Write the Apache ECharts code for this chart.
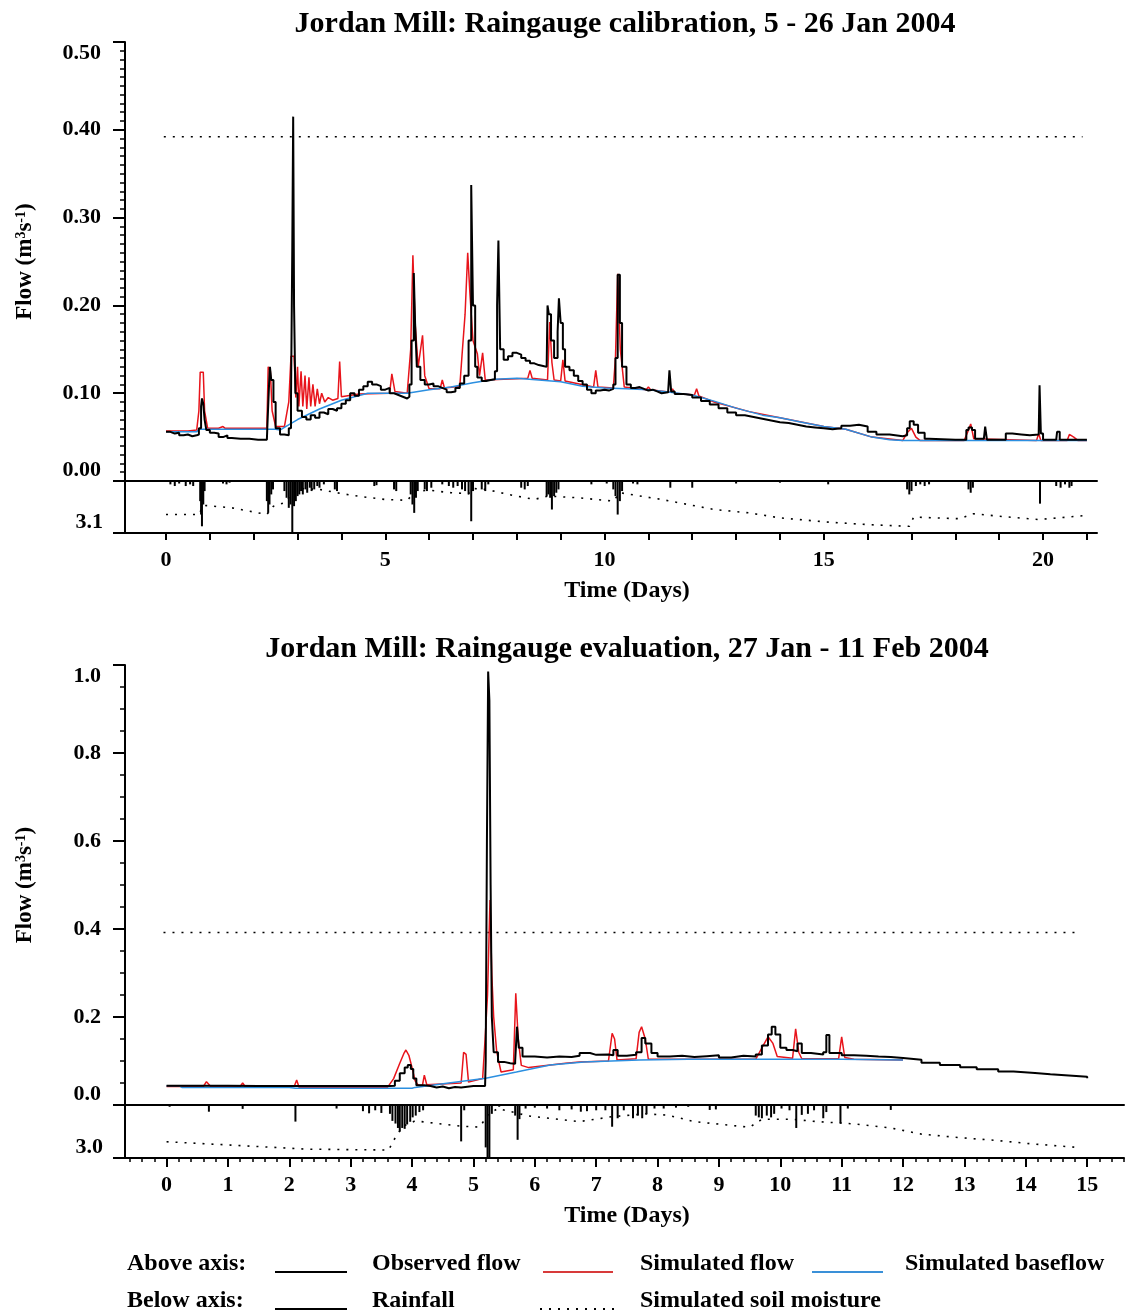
<!DOCTYPE html>
<html>
<head>
<meta charset="utf-8">
<script src="https://cdn.jsdelivr.net/npm/echarts@6/dist/echarts.min.js"></script>
<style>
html,body{margin:0;padding:0;background:#fff;}
#chart{width:1135px;height:1316px;}
</style>
</head>
<body>
<div id="chart"></div>
<script>
// ---------------- DATA ----------------
// Chart A: calibration, 5 - 26 Jan 2004  (time in days, flow m3/s, rainfall / soil moisture below axis)
var titleA = 'Jordan Mill: Raingauge calibration, 5 - 26 Jan 2004';
var titleB = 'Jordan Mill: Raingauge evaluation, 27 Jan - 11 Feb 2004';

var obsFlowA = [[0.00,0.056],[0.10,0.054],[0.20,0.055],[0.30,0.052],[0.40,0.053],[0.50,0.051],[0.60,0.052],[0.70,0.053],[0.75,0.060],[0.80,0.085],[0.82,0.094],[0.85,0.088],[0.88,0.070],[0.92,0.058],[1.00,0.055],[1.10,0.054],[1.20,0.050],[1.30,0.052],[1.40,0.049],[1.50,0.048],[1.70,0.048],[1.90,0.047],[2.10,0.047],[2.30,0.047],[2.31,0.060],[2.35,0.110],[2.37,0.130],[2.40,0.115],[2.45,0.090],[2.50,0.060],[2.60,0.053],[2.70,0.052],[2.80,0.060],[2.85,0.090],[2.88,0.267],[2.90,0.415],[2.92,0.200],[2.95,0.100],[3.00,0.080],[3.10,0.073],[3.20,0.070],[3.30,0.075],[3.40,0.072],[3.50,0.078],[3.60,0.076],[3.70,0.082],[3.80,0.080],[3.90,0.083],[4.00,0.088],[4.10,0.092],[4.20,0.100],[4.30,0.097],[4.40,0.104],[4.50,0.108],[4.60,0.113],[4.70,0.110],[4.80,0.108],[4.90,0.104],[5.00,0.106],[5.10,0.100],[5.20,0.098],[5.30,0.096],[5.40,0.094],[5.50,0.096],[5.55,0.110],[5.60,0.160],[5.65,0.237],[5.68,0.180],[5.72,0.130],[5.80,0.115],[5.90,0.110],[6.00,0.111],[6.10,0.108],[6.20,0.106],[6.30,0.104],[6.40,0.101],[6.50,0.102],[6.60,0.106],[6.70,0.111],[6.80,0.120],[6.90,0.160],[6.96,0.337],[7.00,0.200],[7.05,0.130],[7.10,0.118],[7.20,0.114],[7.30,0.115],[7.40,0.116],[7.50,0.125],[7.55,0.200],[7.58,0.274],[7.62,0.150],[7.70,0.138],[7.80,0.142],[7.90,0.146],[8.00,0.144],[8.10,0.140],[8.20,0.137],[8.30,0.134],[8.40,0.132],[8.50,0.131],[8.60,0.130],[8.68,0.131],[8.70,0.200],[8.73,0.190],[8.78,0.160],[8.85,0.140],[8.93,0.170],[8.96,0.208],[9.00,0.180],[9.05,0.150],[9.10,0.130],[9.20,0.126],[9.30,0.120],[9.40,0.114],[9.50,0.110],[9.60,0.104],[9.70,0.100],[9.80,0.103],[9.90,0.104],[10.00,0.103],[10.10,0.105],[10.20,0.110],[10.25,0.140],[10.30,0.235],[10.35,0.180],[10.40,0.130],[10.50,0.110],[10.60,0.106],[10.70,0.107],[10.80,0.105],[10.90,0.103],[11.00,0.104],[11.10,0.102],[11.20,0.100],[11.30,0.101],[11.45,0.100],[11.48,0.126],[11.52,0.102],[11.60,0.099],[11.80,0.098],[12.00,0.095],[12.20,0.091],[12.40,0.087],[12.60,0.083],[12.80,0.078],[13.00,0.075],[13.20,0.073],[13.40,0.071],[13.60,0.069],[13.80,0.067],[14.00,0.066],[14.20,0.064],[14.40,0.062],[14.60,0.061],[14.80,0.060],[15.00,0.059],[15.20,0.060],[15.40,0.063],[15.60,0.064],[15.80,0.062],[16.00,0.056],[16.20,0.053],[16.50,0.051],[16.80,0.052],[16.90,0.060],[16.96,0.068],[17.05,0.064],[17.15,0.055],[17.30,0.048],[17.40,0.047],[18.00,0.047],[18.20,0.047],[18.25,0.058],[18.30,0.061],[18.38,0.058],[18.45,0.048],[18.65,0.047],[18.68,0.062],[18.72,0.047],[19.10,0.047],[19.15,0.054],[19.30,0.053],[19.50,0.052],[19.70,0.053],[19.90,0.054],[19.92,0.109],[19.95,0.054],[20.00,0.047],[20.30,0.047],[20.32,0.056],[20.38,0.047],[21.00,0.047]];

var simFlowA = [[0.00,0.057],[0.50,0.057],[0.70,0.058],[0.75,0.080],[0.78,0.124],[0.85,0.124],[0.88,0.080],[0.95,0.060],[1.20,0.060],[1.30,0.062],[1.35,0.060],[1.80,0.060],[2.30,0.060],[2.33,0.130],[2.38,0.125],[2.42,0.080],[2.50,0.062],[2.70,0.062],[2.80,0.090],[2.85,0.142],[2.92,0.142],[2.96,0.095],[3.00,0.130],[3.03,0.085],[3.08,0.125],[3.12,0.085],[3.17,0.120],[3.21,0.082],[3.26,0.118],[3.30,0.085],[3.35,0.110],[3.40,0.085],[3.45,0.105],[3.50,0.088],[3.55,0.100],[3.62,0.090],[3.70,0.095],[3.80,0.092],[3.92,0.094],[3.96,0.136],[4.00,0.096],[4.40,0.099],[5.10,0.100],[5.15,0.122],[5.22,0.102],[5.50,0.100],[5.58,0.150],[5.63,0.257],[5.68,0.180],[5.75,0.130],[5.85,0.166],[5.90,0.120],[6.00,0.105],[6.25,0.105],[6.30,0.115],[6.35,0.106],[6.70,0.108],[6.75,0.143],[6.82,0.190],[6.88,0.260],[6.93,0.214],[7.00,0.160],[7.10,0.145],[7.15,0.120],[7.22,0.146],[7.28,0.115],[8.25,0.117],[8.30,0.126],[8.35,0.117],[8.70,0.115],[8.75,0.181],[8.80,0.135],[8.85,0.115],[9.00,0.114],[9.05,0.138],[9.10,0.114],[9.75,0.107],[9.80,0.126],[9.85,0.107],[10.20,0.106],[10.25,0.141],[10.30,0.236],[10.36,0.150],[10.45,0.107],[10.95,0.104],[11.00,0.107],[11.05,0.104],[11.50,0.101],[11.55,0.105],[11.60,0.100],[12.05,0.098],[12.10,0.105],[12.15,0.097],[12.50,0.090],[13.30,0.079],[14.00,0.072],[15.00,0.062],[15.50,0.059],[16.10,0.050],[16.80,0.046],[16.90,0.055],[17.00,0.060],[17.10,0.050],[17.20,0.046],[18.20,0.046],[18.30,0.058],[18.35,0.065],[18.42,0.048],[19.85,0.046],[19.90,0.054],[19.95,0.046],[20.55,0.046],[20.60,0.053],[20.70,0.050],[20.80,0.046],[21.00,0.046]];

var baseFlowA = [[0.00,0.056],[0.70,0.056],[0.75,0.059],[2.50,0.059],[2.60,0.058],[2.70,0.061],[3.00,0.070],[3.50,0.082],[4.00,0.092],[4.60,0.100],[5.00,0.100],[5.50,0.100],[6.00,0.104],[6.50,0.107],[7.00,0.112],[7.50,0.116],[8.00,0.117],[8.50,0.115],[9.00,0.113],[9.50,0.108],[10.00,0.106],[10.50,0.105],[11.00,0.104],[11.50,0.101],[12.00,0.098],[12.50,0.091],[13.00,0.083],[13.30,0.079],[13.60,0.075],[14.00,0.072],[14.50,0.067],[15.00,0.062],[15.50,0.059],[16.10,0.050],[16.50,0.047],[16.80,0.046],[21.00,0.046]];

var rainA = [[0.10,0.2],[0.20,0.3],[0.30,0.15],[0.45,0.3],[0.55,0.2],[0.62,0.3],[0.78,1.2],[0.80,2.0],[0.82,2.7],[0.85,1.4],[0.88,0.6],[1.30,0.15],[1.38,0.2],[1.45,0.1],[2.30,1.2],[2.33,1.9],[2.36,1.4],[2.40,0.8],[2.44,0.5],[2.70,0.6],[2.75,1.0],[2.80,1.6],[2.84,1.4],[2.88,3.1],[2.92,1.5],[2.96,1.2],[3.00,0.9],[3.04,0.8],[3.08,0.6],[3.12,0.8],[3.18,0.5],[3.22,0.7],[3.28,0.4],[3.32,0.6],[3.38,0.5],[3.45,0.3],[3.50,0.4],[3.60,0.2],[3.85,0.5],[3.90,0.6],[4.75,0.3],[4.80,0.25],[5.20,0.5],[5.25,0.6],[5.58,0.8],[5.62,1.4],[5.66,1.9],[5.70,1.0],[5.74,0.6],[5.90,0.5],[5.95,0.6],[6.05,0.4],[6.30,0.2],[6.45,0.3],[6.55,0.4],[6.65,0.3],[6.75,0.5],[6.82,0.6],[6.90,0.8],[6.96,2.4],[7.00,0.6],[7.20,0.5],[7.28,0.6],[7.35,0.2],[8.10,0.4],[8.18,0.5],[8.25,0.3],[8.68,0.9],[8.72,0.8],[8.76,1.0],[8.80,1.7],[8.85,0.9],[8.90,0.7],[8.95,0.5],[9.70,0.2],[10.05,0.15],[10.20,0.5],[10.25,0.9],[10.30,2.0],[10.35,1.2],[10.40,0.6],[10.65,0.15],[10.75,0.2],[11.50,0.4],[12.00,0.4],[13.00,0.15],[14.00,0.1],[15.10,0.2],[16.90,0.5],[16.95,0.8],[17.00,0.6],[17.10,0.3],[17.20,0.2],[17.30,0.3],[17.40,0.2],[18.30,0.5],[18.35,0.7],[18.40,0.4],[19.93,1.35],[20.30,0.3],[20.40,0.4],[20.50,0.2],[20.60,0.4],[20.65,0.3]];

var soilA = [[0.0,2.0],[0.75,2.0],[0.85,1.45],[1.5,1.6],[2.3,2.0],[2.45,1.5],[2.7,1.3],[2.9,0.7],[3.05,0.45],[3.5,0.5],[4.0,0.75],[4.5,0.95],[5.0,1.1],[5.5,1.15],[5.7,0.6],[6.0,0.55],[6.5,0.7],[6.9,0.75],[7.0,0.45],[7.3,0.5],[7.8,0.8],[8.4,1.1],[8.7,0.9],[9.4,1.0],[10.2,1.2],[10.35,0.7],[11.3,1.1],[12.5,1.7],[13.3,1.9],[14.0,2.2],[15.1,2.45],[16.0,2.6],[16.95,2.7],[17.05,2.15],[18.1,2.25],[18.4,1.95],[19.0,2.1],[19.9,2.3],[21.0,2.05]];

var thresholdA = [[-0.05,0.392],[20.9,0.392]];

// Chart B: evaluation, 27 Jan - 11 Feb 2004
var obsFlowB = [[0.0,0.044],[0.5,0.044],[1.0,0.043],[1.5,0.043],[2.0,0.043],[2.5,0.043],[3.0,0.043],[3.5,0.043],[3.64,0.044],[3.72,0.055],[3.80,0.072],[3.88,0.085],[3.93,0.091],[3.98,0.082],[4.02,0.060],[4.07,0.045],[4.2,0.043],[4.3,0.040],[4.4,0.042],[4.5,0.038],[4.6,0.041],[4.7,0.040],[4.8,0.043],[5.0,0.043],[5.19,0.043],[5.20,0.100],[5.22,0.600],[5.24,0.985],[5.26,0.920],[5.28,0.500],[5.30,0.200],[5.33,0.120],[5.40,0.098],[5.50,0.095],[5.60,0.094],[5.68,0.100],[5.71,0.178],[5.74,0.130],[5.80,0.110],[6.00,0.108],[6.2,0.110],[6.4,0.109],[6.6,0.112],[6.73,0.118],[6.9,0.114],[7.0,0.115],[7.2,0.113],[7.28,0.125],[7.35,0.112],[7.5,0.114],[7.65,0.120],[7.74,0.152],[7.8,0.140],[7.9,0.118],[8.0,0.110],[8.2,0.112],[8.4,0.109],[8.6,0.111],[8.8,0.113],[9.0,0.108],[9.2,0.112],[9.4,0.110],[9.6,0.115],[9.7,0.135],[9.8,0.160],[9.86,0.178],[9.92,0.160],[10.0,0.130],[10.1,0.125],[10.2,0.122],[10.28,0.140],[10.35,0.118],[10.5,0.115],[10.7,0.120],[10.75,0.159],[10.8,0.118],[11.0,0.113],[11.2,0.112],[11.4,0.110],[11.6,0.109],[11.8,0.107],[12.0,0.103],[12.3,0.096],[12.6,0.091],[12.93,0.086],[13.2,0.081],[13.55,0.076],[13.8,0.073],[14.15,0.070],[14.4,0.067],[14.7,0.064],[15.0,0.061]];

var simFlowB = [[0.0,0.042],[0.6,0.042],[0.65,0.053],[0.72,0.042],[1.2,0.042],[1.24,0.050],[1.28,0.042],[2.08,0.042],[2.12,0.057],[2.16,0.040],[3.6,0.040],[3.7,0.060],[3.8,0.095],[3.87,0.118],[3.9,0.125],[3.95,0.112],[4.0,0.085],[4.05,0.055],[4.1,0.045],[4.17,0.045],[4.2,0.068],[4.24,0.046],[4.8,0.050],[4.84,0.120],[4.88,0.115],[4.92,0.052],[5.15,0.060],[5.19,0.150],[5.23,0.250],[5.27,0.466],[5.30,0.295],[5.33,0.200],[5.38,0.120],[5.45,0.075],[5.65,0.080],[5.69,0.254],[5.73,0.150],[5.78,0.090],[5.9,0.085],[6.5,0.095],[6.73,0.098],[7.2,0.100],[7.26,0.163],[7.30,0.150],[7.34,0.102],[7.65,0.105],[7.70,0.165],[7.74,0.178],[7.80,0.150],[7.85,0.104],[9.6,0.104],[9.7,0.130],[9.8,0.155],[9.88,0.140],[9.95,0.110],[10.2,0.106],[10.25,0.173],[10.30,0.120],[10.35,0.105],[10.95,0.105],[11.0,0.155],[11.05,0.108],[11.2,0.104],[12.0,0.102]];

var baseFlowB = [[0.0,0.044],[0.2,0.044],[0.25,0.040],[2.0,0.040],[2.1,0.038],[4.0,0.038],[4.05,0.040],[4.6,0.050],[5.2,0.061],[5.7,0.075],[6.25,0.091],[6.8,0.098],[7.7,0.102],[8.5,0.104],[10.0,0.104],[11.0,0.104],[12.0,0.102]];

var rainB = [[0.05,0.1],[0.69,0.38],[1.24,0.22],[2.1,0.94],[2.77,0.2],[3.2,0.35],[3.3,0.47],[3.4,0.3],[3.5,0.45],[3.64,0.5],[3.68,0.9],[3.73,1.05],[3.77,1.3],[3.80,1.5],[3.84,1.3],[3.88,1.35],[3.92,1.1],[3.97,0.95],[4.01,0.7],[4.06,0.6],[4.12,0.4],[4.18,0.3],[4.8,2.06],[4.85,0.3],[5.2,2.4],[5.23,3.0],[5.26,3.0],[5.3,0.5],[5.42,0.1],[5.68,0.6],[5.72,1.97],[5.75,0.8],[5.85,0.2],[6.0,0.15],[6.2,0.2],[6.4,0.3],[6.6,0.25],[6.75,0.38],[6.85,0.35],[7.0,0.3],[7.15,0.3],[7.26,1.23],[7.35,0.75],[7.45,0.3],[7.6,0.75],[7.68,0.6],[7.75,0.75],[7.82,0.5],[7.95,0.2],[8.1,0.2],[8.3,0.15],[8.5,0.1],[8.85,0.28],[8.95,0.25],[9.6,0.6],[9.65,0.7],[9.7,0.75],[9.78,0.6],[9.85,0.7],[9.9,0.5],[10.02,0.2],[10.15,0.3],[10.26,1.3],[10.35,0.56],[10.45,0.5],[10.55,0.3],[10.7,0.75],[10.75,0.4],[10.98,1.03],[11.1,0.2],[11.8,0.28]];

var soilB = [[0.0,2.08],[1.05,2.27],[2.3,2.5],[3.62,2.55],[3.7,2.0],[3.85,1.2],[4.05,0.9],[4.8,1.2],[5.1,1.25],[5.25,0.5],[5.4,0.2],[5.9,0.62],[6.73,0.94],[7.26,0.66],[7.8,0.5],[8.16,0.57],[8.6,0.94],[9.5,1.26],[9.7,0.81],[10.2,0.81],[10.6,0.94],[11.2,1.07],[11.8,1.3],[12.3,1.65],[12.9,1.84],[13.5,2.0],[14.1,2.2],[14.85,2.4]];

var thresholdB = [[-0.05,0.392],[14.9,0.392]];

// tick values
var xTicksA = [0,1,2,3,4,5,6,7,8,9,10,11,12,13,14,15,16,17,18,19,20,21];
var xLabelsA = [0,5,10,15,20];
var xTicksB = [0,1,2,3,4,5,6,7,8,9,10,11,12,13,14,15];
var xMinorB = [];
for (var k = -3; k <= 78; k++) { if (k % 5 !== 0) xMinorB.push(+(k * 0.2).toFixed(1)); }

// ---------------- CHART ----------------
var FONT = '"Liberation Serif", "Times New Roman", serif';
var BLACK = '#000000', RED = '#e8141b', BLUE = '#2b8fe0';
var chart = echarts.init(document.getElementById('chart'), null, {renderer: 'canvas'});

var labelStyle = {color: BLACK, fontFamily: FONT, fontWeight: 'bold', fontSize: 22};
var yName = 'Flow (m{sup|3}s{sup|-1})';
var yNameStyle = {color: BLACK, fontFamily: FONT, fontWeight: 'bold', fontSize: 23,
  rich: {sup: {fontFamily: FONT, fontWeight: 'bold', fontSize: 14, verticalAlign: 'top', padding: [0,0,8,0]}}};

function lineS(data, xi, yi, color, width, dash, step) {
  return {type: 'line', data: data, xAxisIndex: xi, yAxisIndex: yi, showSymbol: false, symbol: 'none',
    silent: true, animation: false, clip: true, step: step || false,
    lineStyle: {color: color, width: width, type: dash || 'solid'}};
}
function barS(data, xi, yi) {
  return {type: 'bar', data: data, xAxisIndex: xi, yAxisIndex: yi, barWidth: 2, silent: true, animation: false,
    itemStyle: {color: BLACK}};
}

var option = {
  backgroundColor: '#ffffff',
  animation: false,
  title: [
    {text: titleA, left: 625, top: 9, textAlign: 'center', padding: 0,
     textStyle: {fontFamily: FONT, fontWeight: 'bold', fontSize: 30, color: BLACK}},
    {text: titleB, left: 627, top: 634, textAlign: 'center', padding: 0,
     textStyle: {fontFamily: FONT, fontWeight: 'bold', fontSize: 30, color: BLACK}}
  ],
  grid: [
    {left: 125, top: 42, width: 972, height: 439, containLabel: false},
    {left: 125, top: 481, width: 972, height: 52, containLabel: false},
    {left: 125, top: 665, width: 999, height: 440, containLabel: false},
    {left: 125, top: 1105, width: 999, height: 53, containLabel: false},
    {left: 125, top: 1105, width: 999, height: 53, containLabel: false}
  ],
  xAxis: [
    {type: 'value', gridIndex: 0, min: -0.935, max: 21.23, position: 'bottom',
     axisLine: {show: true, onZero: false, lineStyle: {color: BLACK, width: 2}},
     axisTick: {show: false}, axisLabel: {show: false}, splitLine: {show: false}},
    {type: 'value', gridIndex: 1, min: -0.935, max: 21.23, position: 'bottom',
     name: 'Time (Days)', nameLocation: 'middle', nameGap: 46,
     nameTextStyle: {color: BLACK, fontFamily: FONT, fontWeight: 'bold', fontSize: 24, padding: [0,0,0,32]},
     axisLine: {show: true, onZero: false, lineStyle: {color: BLACK, width: 2}},
     axisTick: {show: true, customValues: xTicksA, length: 7, lineStyle: {color: BLACK, width: 2}},
     axisLabel: Object.assign({customValues: xLabelsA, margin: 16}, labelStyle),
     splitLine: {show: false}},
    {type: 'value', gridIndex: 2, min: -0.677, max: 15.6, position: 'bottom',
     axisLine: {show: true, onZero: false, lineStyle: {color: BLACK, width: 2}},
     axisTick: {show: false}, axisLabel: {show: false}, splitLine: {show: false}},
    {type: 'value', gridIndex: 3, min: -0.677, max: 15.6, position: 'bottom',
     name: 'Time (Days)', nameLocation: 'middle', nameGap: 46,
     nameTextStyle: {color: BLACK, fontFamily: FONT, fontWeight: 'bold', fontSize: 24, padding: [0,0,0,5]},
     axisLine: {show: true, onZero: false, lineStyle: {color: BLACK, width: 2}},
     axisTick: {show: true, customValues: xTicksB, length: 9, lineStyle: {color: BLACK, width: 2}},
     axisLabel: Object.assign({customValues: xTicksB, margin: 16}, labelStyle),
     splitLine: {show: false}},
    {type: 'value', gridIndex: 4, min: -0.677, max: 15.6, position: 'bottom',
     axisLine: {show: false},
     axisTick: {show: true, customValues: xMinorB, length: 4, lineStyle: {color: BLACK, width: 1.5}},
     axisLabel: {show: false}, splitLine: {show: false}}
  ],
  yAxis: [
    {type: 'value', gridIndex: 0, min: 0, max: 0.5, interval: 0.1, position: 'left',
     name: yName, nameLocation: 'middle', nameGap: 88, nameRotate: 90, nameTextStyle: yNameStyle,
     axisLine: {show: true, onZero: false, lineStyle: {color: BLACK, width: 2}},
     axisTick: {show: true, length: 12, lineStyle: {color: BLACK, width: 2}},
     minorTick: {show: true, splitNumber: 10, length: 5, lineStyle: {color: BLACK, width: 1.5}},
     axisLabel: Object.assign({margin: 24, formatter: function (v) { return v.toFixed(2); },
       verticalAlignMinLabel: 'bottom', verticalAlignMaxLabel: 'top'}, labelStyle),
     splitLine: {show: false}},
    {type: 'value', gridIndex: 1, min: 0, max: 3.1, interval: 3.1, inverse: true, position: 'left',
     axisLine: {show: true, onZero: false, lineStyle: {color: BLACK, width: 2}},
     axisTick: {show: true, length: 12, lineStyle: {color: BLACK, width: 2}},
     axisLabel: Object.assign({margin: 22, formatter: function (v) { return v === 0 ? '' : '3.1'; },
       verticalAlignMaxLabel: 'bottom'}, labelStyle),
     splitLine: {show: false}},
    {type: 'value', gridIndex: 2, min: 0, max: 1.0, interval: 0.2, position: 'left',
     name: yName, nameLocation: 'middle', nameGap: 88, nameRotate: 90, nameTextStyle: yNameStyle,
     axisLine: {show: true, onZero: false, lineStyle: {color: BLACK, width: 2}},
     axisTick: {show: true, length: 12, lineStyle: {color: BLACK, width: 2}},
     minorTick: {show: true, splitNumber: 4, length: 5, lineStyle: {color: BLACK, width: 1.5}},
     axisLabel: Object.assign({margin: 24, formatter: function (v) { return v.toFixed(1); },
       verticalAlignMinLabel: 'bottom', verticalAlignMaxLabel: 'top'}, labelStyle),
     splitLine: {show: false}},
    {type: 'value', gridIndex: 3, min: 0, max: 3.0, interval: 3.0, inverse: true, position: 'left',
     axisLine: {show: true, onZero: false, lineStyle: {color: BLACK, width: 2}},
     axisTick: {show: true, length: 12, lineStyle: {color: BLACK, width: 2}},
     axisLabel: Object.assign({margin: 22, formatter: function (v) { return v === 0 ? '' : '3.0'; },
       verticalAlignMaxLabel: 'bottom'}, labelStyle),
     splitLine: {show: false}},
    {type: 'value', gridIndex: 4, min: 0, max: 3.0, show: false}
  ],
  series: [
    lineS(thresholdA, 0, 0, BLACK, 1.6, [2, 7]),
    lineS(simFlowA, 0, 0, RED, 1.5),
    lineS(baseFlowA, 0, 0, BLUE, 1.5),
    lineS(obsFlowA, 0, 0, BLACK, 2, null, 'end'),
    barS(rainA, 1, 1),
    lineS(soilA, 1, 1, BLACK, 1.6, [2, 7]),
    lineS(thresholdB, 2, 2, BLACK, 1.6, [2, 7]),
    lineS(simFlowB, 2, 2, RED, 1.5),
    lineS(baseFlowB, 2, 2, BLUE, 1.5),
    lineS(obsFlowB, 2, 2, BLACK, 2, null, 'end'),
    barS(rainB, 3, 3),
    lineS(soilB, 3, 3, BLACK, 1.6, [2, 7])
  ],
  graphic: []
};

// legend drawn as graphic text + sample lines
function gText(x, y, t) {
  return {type: 'text', x: x, y: y, silent: true,
    style: {text: t, fill: BLACK, font: 'bold 24px ' + FONT, align: 'left', verticalAlign: 'middle',
            textAlign: 'left', textVerticalAlign: 'middle'}};
}
function gLine(x1, x2, y, color, dash) {
  return {type: 'line', silent: true, shape: {x1: x1, y1: y, x2: x2, y2: y},
    style: {stroke: color, lineWidth: 2, lineDash: dash || null}};
}
option.graphic = [
  gText(127, 1264, 'Above axis:'),
  gLine(275, 347, 1272, BLACK),
  gText(372, 1264, 'Observed flow'),
  gLine(543, 613, 1272, '#d83a3a'),
  gText(640, 1264, 'Simulated flow'),
  gLine(812, 883, 1272, '#3a90d8'),
  gText(905, 1264, 'Simulated baseflow'),
  gText(127, 1301, 'Below axis:'),
  gLine(275, 347, 1309, BLACK),
  gText(372, 1301, 'Rainfall'),
  gLine(540, 615, 1309, BLACK, [2, 7]),
  gText(640, 1301, 'Simulated soil moisture')
];

chart.setOption(option);
</script>
</body>
</html>
